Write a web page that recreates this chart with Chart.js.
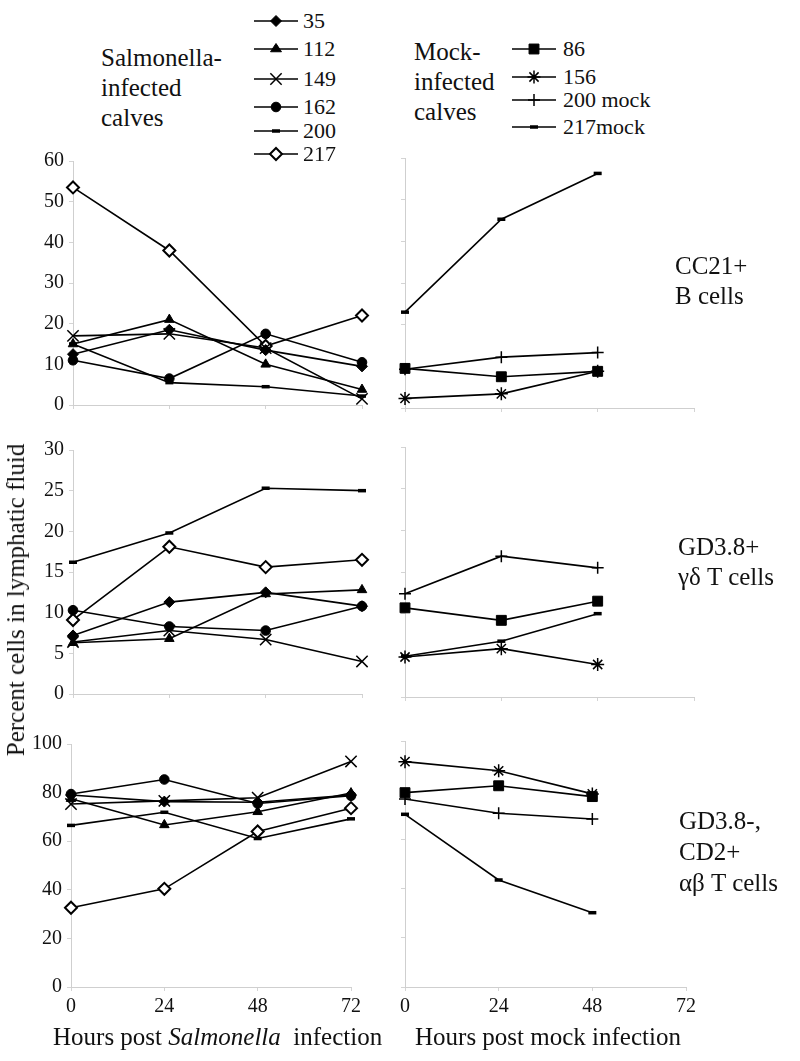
<!DOCTYPE html>
<html><head><meta charset="utf-8">
<script src="https://cdn.jsdelivr.net/npm/chart.js@4/dist/chart.umd.min.js"></script>
<style>
body{margin:0;background:#fff;width:800px;height:1061px;position:relative;overflow:hidden;font-family:"Liberation Serif","Times New Roman",serif;color:#111}
canvas{position:absolute}
.t{position:absolute;font-size:25px;line-height:30px;white-space:nowrap}
.lg{position:absolute;font-size:22px;line-height:24px;white-space:nowrap}
</style></head><body>
<script>
// ---------- DATA ----------
const hoursSal = [0, 24, 48, 72];
const hoursMock = [0, 24, 48];
const xTicks = [0, 24, 48, 72];
const salCalves = ['35', '112', '149', '162', '200', '217'];
const mockCalves = ['86', '156', '200 mock', '217mock'];

// CC21+ B cells (Salmonella-infected)
const b35  = [12.5, 18.5, 13.5, 9.5];
const b112 = [15.0, 21.0, 10.0, 3.8];
const b149 = [17.0, 17.5, 14.0, 1.5];
const b162 = [11.0, 6.5, 17.5, 10.5];
const b200 = [15.0, 5.5, 4.5, 2.2];
const b217 = [53.5, 38.0, 14.5, 22.0];
// CC21+ B cells (mock)
const b86m  = [9.5, 7.5, 8.8];
const b156m = [2.3, 3.4, 8.8];
const b200m = [9.3, 12.2, 13.3];
const b217m = [23.0, 45.3, 56.3];

// GD3.8+ gd T cells (Salmonella-infected)
const g35  = [7.2, 11.3, 12.5, 10.8];
const g112 = [6.3, 6.8, 12.3, 12.8];
const g149 = [6.4, 7.8, 6.7, 4.0];
const g162 = [10.3, 8.3, 7.8, 10.8];
const g200 = [16.2, 19.8, 25.3, 25.0];
const g217 = [9.1, 18.1, 15.6, 16.5];
// GD3.8+ (mock)
const g86m  = [10.7, 9.2, 11.5];
const g156m = [4.8, 5.8, 3.9];
const g200m = [12.4, 16.9, 15.5];
const g217m = [4.9, 6.7, 10.0];

// GD3.8-, CD2+ ab T cells (Salmonella-infected)
const a35  = [79.0, 76.3, 76.0, 79.0];
const a112 = [77.5, 66.7, 72.1, 79.8];
const a149 = [75.3, 76.6, 77.9, 92.8];
const a162 = [79.4, 85.4, 75.5, 78.7];
const a200 = [66.5, 71.9, 61.1, 69.2];
const a217 = [32.6, 40.4, 64.0, 73.6];
// (mock)
const a86m  = [79.0, 81.8, 77.4];
const a156m = [91.6, 87.9, 78.5];
const a200m = [76.4, 70.6, 68.3];
const a217m = [70.2, 43.5, 30.2];

// ---------- STYLES ----------
const FONT = '"Liberation Serif","Times New Roman",serif';
const markers = {
  '35':      {ps:'rectRot',  r:5.5, bg:'#000', bw:1},
  '112':     {ps:'triangle', r:5.5, bg:'#000', bw:1},
  '149':     {ps:'crossRot', r:8,   bg:'#000', bw:1.5},
  '162':     {ps:'circle',   r:4.8, bg:'#000', bw:1},
  '200':     {ps:'line',     r:4,   bg:'#000', bw:3.5},
  '217':     {ps:'rectRot',  r:6,   bg:'#fff', bw:2},
  '86':      {ps:'rect',     r:7,   bg:'#000', bw:1},
  '156':     {ps:'star',     r:6.5, bg:'#000', bw:1.5},
  '200 mock':{ps:'cross',    r:6,   bg:'#000', bw:1.5},
  '217mock': {ps:'line',     r:4,   bg:'#000', bw:3.5}
};

function ds(name, xs, vals){
  const m = markers[name];
  return {
    label:name,
    data: xs.map((x,i)=>({x:x, y:vals[i]})),
    borderColor:'#000', borderWidth:1.6, tension:0, fill:false, clip:false,
    pointStyle:m.ps, pointRadius:m.r, pointHoverRadius:m.r,
    pointBackgroundColor:m.bg, pointBorderColor:'#000', pointBorderWidth:m.bw
  };
}

function panel(box, datasets, yMin, yMax, yStep, showY, showX){
  const padTop = 14, padRight = 18;
  const xH = showX ? 36 : 14;
  const yW = box.left - box.canvasLeft;
  const c = document.createElement('canvas');
  const W = box.right + padRight - box.canvasLeft;
  const H = box.bottom - (box.top - padTop) + xH;
  c.width = W; c.height = H;
  c.style.left = box.canvasLeft + 'px';
  c.style.top = (box.top - padTop) + 'px';
  c.style.width = W + 'px'; c.style.height = H + 'px';
  document.body.appendChild(c);
  const gridCfg = {display:true, drawOnChartArea:false, drawTicks:true, tickLength:4, color:'#d4d4d4', lineWidth:1};
  new Chart(c, {
    type:'line',
    data:{datasets:datasets},
    options:{
      responsive:false, animation:false, devicePixelRatio:1,
      layout:{padding:{top:padTop, right:padRight, left:0, bottom:0}},
      plugins:{legend:{display:false}, tooltip:{enabled:false}},
      events:[],
      scales:{
        x:{type:'linear', min:0, max:72,
          afterBuildTicks:s=>{s.ticks = xTicks.map(v=>({value:v}));},
          grid:gridCfg, border:{display:true, color:'#cfcfcf', width:1},
          ticks:{display:showX, autoSkip:false, maxRotation:0, padding:4, color:'#111', font:{family:FONT, size:20}},
          afterFit:s=>{s.height = xH;}
        },
        y:{type:'linear', min:yMin, max:yMax,
          grid:gridCfg, border:{display:true, color:'#cfcfcf', width:1},
          ticks:{display:showY, stepSize:yStep, padding:5, color:'#111', font:{family:FONT, size:20}},
          afterFit:s=>{s.width = yW;}
        }
      }
    }
  });
}

function salSets(arrs){ return salCalves.map((n,i)=>ds(n, hoursSal, arrs[i])); }
function mockSets(arrs){ return mockCalves.map((n,i)=>ds(n, hoursMock, arrs[i])); }

// top row
panel({canvasLeft:0, left:73, right:362, top:158, bottom:408}, salSets([b35,b112,b149,b162,b200,b217]), 0, 60, 10, true, false);
panel({canvasLeft:380, left:405, right:694, top:158, bottom:408}, mockSets([b86m,b156m,b200m,b217m]), 0, 60, 10, false, false);
// middle row
panel({canvasLeft:0, left:73, right:362, top:447, bottom:697}, salSets([g35,g112,g149,g162,g200,g217]), 0, 30, 5, true, false);
panel({canvasLeft:380, left:405, right:694, top:447, bottom:697}, mockSets([g86m,g156m,g200m,g217m]), 0, 30, 5, false, false);
// bottom row
panel({canvasLeft:0, left:71, right:351, top:741, bottom:987}, salSets([a35,a112,a149,a162,a200,a217]), 0, 100, 20, true, true);
panel({canvasLeft:380, left:405, right:686, top:741, bottom:987}, mockSets([a86m,a156m,a200m,a217m]), 0, 100, 20, false, true);

// ---------- LEGENDS ----------
function drawMarker(ctx, m, x, y){
  const r = m.r;
  ctx.save();
  ctx.fillStyle = m.bg; ctx.strokeStyle = '#000'; ctx.lineWidth = m.bw;
  ctx.beginPath();
  switch(m.ps){
    case 'rectRot': ctx.moveTo(x-r,y); ctx.lineTo(x,y-r); ctx.lineTo(x+r,y); ctx.lineTo(x,y+r); ctx.closePath(); ctx.fill(); ctx.stroke(); break;
    case 'triangle': { const h=r*1.5; ctx.moveTo(x-r*0.866*1.15,y+r*0.5); ctx.lineTo(x,y-r); ctx.lineTo(x+r*0.866*1.15,y+r*0.5); ctx.closePath(); ctx.fill(); ctx.stroke(); break; }
    case 'circle': ctx.arc(x,y,r,0,Math.PI*2); ctx.fill(); ctx.stroke(); break;
    case 'rect': { const s=r*Math.SQRT1_2; ctx.rect(x-s,y-s,2*s,2*s); ctx.fill(); ctx.stroke(); break; }
    case 'crossRot': { const s=r*Math.SQRT1_2; ctx.moveTo(x-s,y-s); ctx.lineTo(x+s,y+s); ctx.moveTo(x-s,y+s); ctx.lineTo(x+s,y-s); ctx.stroke(); break; }
    case 'cross': ctx.moveTo(x,y-r); ctx.lineTo(x,y+r); ctx.moveTo(x-r,y); ctx.lineTo(x+r,y); ctx.stroke(); break;
    case 'star': { const s=r*Math.SQRT1_2; ctx.moveTo(x,y-r); ctx.lineTo(x,y+r); ctx.moveTo(x-r,y); ctx.lineTo(x+r,y); ctx.moveTo(x-s,y-s); ctx.lineTo(x+s,y+s); ctx.moveTo(x-s,y+s); ctx.lineTo(x+s,y-s); ctx.stroke(); break; }
    case 'line': ctx.moveTo(x-r,y); ctx.lineTo(x+r,y); ctx.stroke(); break;
  }
  ctx.restore();
}
function legend(names, rowsY, canvasLeft, textLeft){
  names.forEach((n,i)=>{
    const c = document.createElement('canvas');
    c.width = 48; c.height = 20;
    c.style.left = canvasLeft+'px'; c.style.top = (rowsY[i]-10)+'px';
    document.body.appendChild(c);
    const ctx = c.getContext('2d');
    ctx.strokeStyle='#000'; ctx.lineWidth=1.6;
    ctx.beginPath(); ctx.moveTo(2,10); ctx.lineTo(46,10); ctx.stroke();
    drawMarker(ctx, markers[n], 24, 10);
    const d = document.createElement('div');
    d.className='lg'; d.textContent=n;
    d.style.left=textLeft+'px'; d.style.top=(rowsY[i]-12)+'px';
    document.body.appendChild(d);
  });
}
legend(salCalves, [21,49,79,107,131,154], 252, 303);
legend(mockCalves, [49,77,100,127], 510, 563);

// ---------- TEXT ----------
function txt(html, left, top, extra){
  const d=document.createElement('div'); d.className='t'; d.innerHTML=html;
  d.style.left=left+'px'; d.style.top=top+'px';
  if(extra) Object.assign(d.style, extra);
  document.body.appendChild(d);
}
txt('Salmonella-<br>infected<br>calves', 101, 43);
txt('Mock-<br>infected<br>calves', 414, 37);
txt('CC21+<br>B cells', 675, 251);
txt('GD3.8+<br>&gamma;&delta; T cells', 678, 532);
txt('GD3.8-,<br>CD2+<br>&alpha;&beta; T cells', 679, 805, {lineHeight:'31px'});
txt('Hours post <i>Salmonella</i>&nbsp; infection', 53, 1022);
txt('Hours post mock infection', 415, 1022);
txt('Percent cells in lymphatic fluid', 16, 600, {transform:'translate(-50%,-50%) rotate(-90deg)'});
</script>
</body></html>
